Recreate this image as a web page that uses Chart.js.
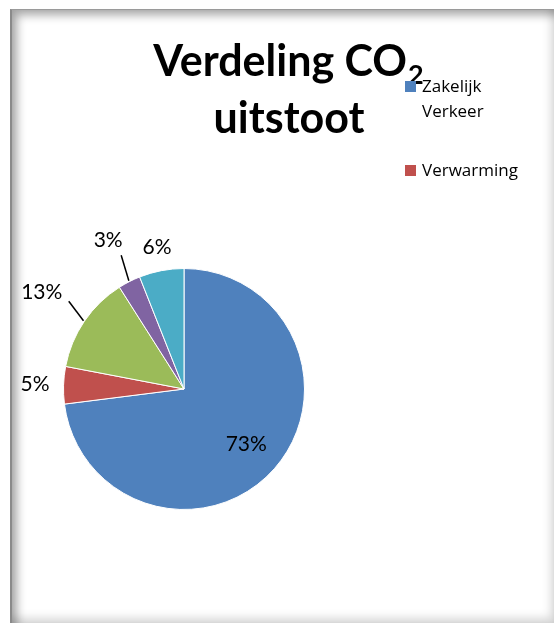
<!DOCTYPE html>
<html>
<head>
<meta charset="utf-8">
<script src="https://cdn.jsdelivr.net/npm/chart.js@4.4.0/dist/chart.umd.min.js"></script>
<style>
  html, body { margin: 0; padding: 0; background: #fff; overflow: hidden; }
  body { width: 554px; height: 623px; position: relative; }
  #frame {
    position: absolute; left: 10px; top: 9px; width: 546px; height: 616px;
    box-sizing: border-box;
    border-left: 2px solid #8a8a8a; border-top: 1px solid #9a9a9a;
    background: #fff;
    box-shadow: inset 5px 5px 10px rgba(0,0,0,0.35), inset -5px -7px 10px rgba(0,0,0,0.16);
  }
  #pie { position: absolute; left: 0; top: 0; }
</style>
</head>
<body>
<div id="frame"></div>
<canvas id="pie" width="554" height="623"></canvas>
<script>
// data
const categories = ["Zakelijk Verkeer", "Verwarming", "", "", ""];
const shares = [73, 5, 13, 3, 6];
const sliceColors = ["#4F81BD", "#C0504D", "#9BBB59", "#8064A2", "#4BACC6"];

const FONT = "Lato, 'Open Sans', sans-serif";
const LEGEND_FONT = "'Open Sans', Lato, sans-serif";

// where each percentage label sits (distance from centre, optional leader line end)
const labelLayout = [
    { dist: 83 },
    { dist: 149 },
    { dist: 172, lineEnd: [27, 9] },
    { dist: 167, lineEnd: [13, 15] },
    { dist: 144 }
];

const titlePlugin = {
    id: "titleText",
    afterDraw(chart) {
        const ctx = chart.ctx;
        ctx.save();
        ctx.fillStyle = "#000";
        ctx.textBaseline = "alphabetic";
        ctx.textAlign = "left";
        ctx.font = "bold 43px " + FONT;
        const main = "Verdeling CO";
        const w1 = ctx.measureText(main).width;
        ctx.font = "bold 27px " + FONT;
        const w2 = ctx.measureText("2").width;
        const cx = 288;
        const x0 = cx - (w1 + w2) / 2;
        ctx.font = "bold 43px " + FONT;
        ctx.fillText(main, x0, 76);
        ctx.font = "bold 27px " + FONT;
        ctx.fillText("2", x0 + w1 + 1, 84);
        ctx.font = "bold 43px " + FONT;
        ctx.textAlign = "center";
        ctx.fillText("uitstoot", 289, 133);
        ctx.restore();
    }
};

const legendPlugin = {
    id: "sideLegend",
    afterDraw(chart) {
        const ctx = chart.ctx;
        ctx.save();
        ctx.font = "17px " + LEGEND_FONT;
        ctx.fillStyle = "#000";
        ctx.textBaseline = "alphabetic";
        let shown = 0;
        categories.forEach((name, i) => {
            if (!name) return;
            const top = 81 + shown * 84;
            ctx.fillStyle = sliceColors[i];
            ctx.fillRect(405, top, 11, 11);
            // word wrap
            const words = name.split(" ");
            const lines = [];
            let cur = "";
            words.forEach(w => {
                const t = cur ? cur + " " + w : w;
                if (cur && ctx.measureText(t).width > 110) {
                    lines.push(cur);
                    cur = w;
                } else {
                    cur = t;
                }
            });
            lines.push(cur);
            ctx.fillStyle = "#000";
            lines.forEach((ln, k) => ctx.fillText(ln, 422, top + 11 + k * 25));
            shown++;
        });
        ctx.restore();
    }
};

const pctPlugin = {
    id: "pctLabels",
    afterDatasetsDraw(chart) {
        const ctx = chart.ctx;
        const arcs = chart.getDatasetMeta(0).data;
        ctx.save();
        ctx.font = "21px " + FONT;
        ctx.fillStyle = "#000";
        ctx.textAlign = "center";
        ctx.textBaseline = "middle";
        ctx.strokeStyle = "#000";
        ctx.lineWidth = 1.5;
        arcs.forEach((arc, i) => {
            const p = arc.getProps(["x", "y", "startAngle", "endAngle", "outerRadius"], true);
            const mid = (p.startAngle + p.endAngle) / 2;
            const lay = labelLayout[i];
            const lx = p.x + Math.cos(mid) * lay.dist;
            const ly = p.y + Math.sin(mid) * lay.dist;
            if (lay.lineEnd) {
                ctx.beginPath();
                ctx.moveTo(p.x + Math.cos(mid) * (p.outerRadius + 1), p.y + Math.sin(mid) * (p.outerRadius + 1));
                ctx.lineTo(lx + lay.lineEnd[0], ly + lay.lineEnd[1]);
                ctx.stroke();
            }
            ctx.fillText(shares[i] + "%", lx, ly);
        });
        ctx.restore();
    }
};

new Chart(document.getElementById("pie").getContext("2d"), {
    type: "pie",
    data: {
        labels: categories,
        datasets: [{
            data: shares,
            backgroundColor: sliceColors,
            borderColor: "#ffffff",
            borderWidth: 1
        }]
    },
    options: {
        responsive: false,
        animation: false,
        layout: { padding: { left: 63, right: 249, top: 268, bottom: 113 } },
        plugins: {
            legend: { display: false },
            title: { display: false },
            tooltip: { enabled: false }
        }
    },
    plugins: [pctPlugin, titlePlugin, legendPlugin]
});
</script>
</body>
</html>
